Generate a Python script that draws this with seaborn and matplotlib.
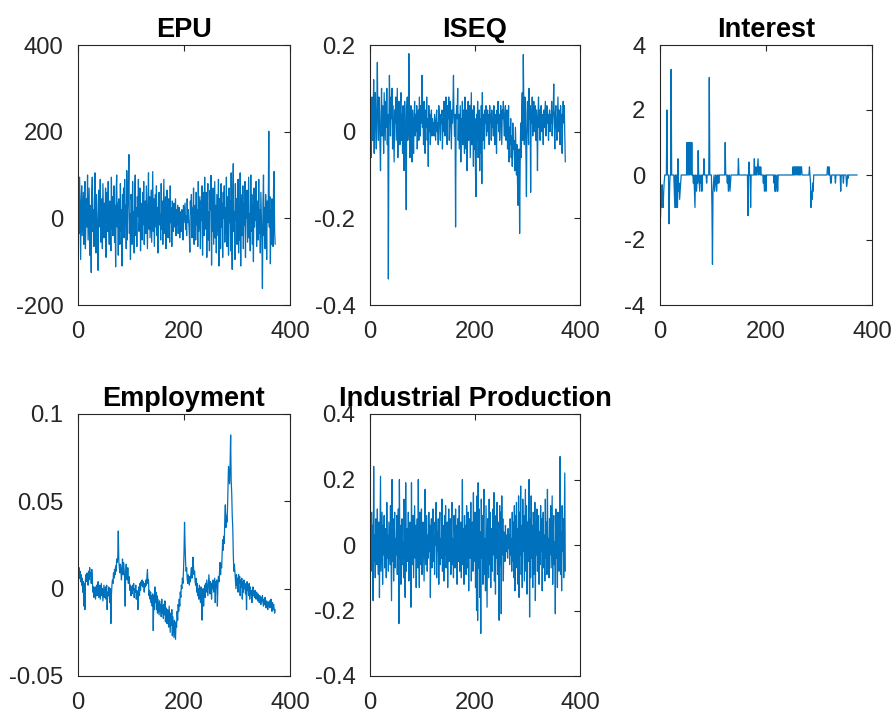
import numpy as np
import pandas as pd
import matplotlib
matplotlib.use("Agg")
import matplotlib.pyplot as plt
import seaborn as sns

titles = ["EPU", "ISEQ", "Interest", "Employment", "Industrial Production"]

epu = [20, -35, 95, -10, -95, 40, 75, -40, 10, 60, -60, 25, 85, -70, 0, 45, -20, 100, -50, 15,
       70, -85, 30, -40, -125, 60, 95, -30, 20, -65, 40, 105, -15, -80, 55, 10, -40, -120, 65, 30,
       -20, 90, -55, 5, 45, -70, 80, 20, -45, 35, -10, 70, -90, 25, 60, -30, 85, -5, -60, 40,
       15, -75, 95, -25, 50, -40, 10, 75, -55, 30, -112, 60, 100, -20, 35, -85, 45, 5, -60, 80,
       -30, 20, -110, 55, 10, 70, -45, 90, -15, 30, -70, 110, -50, 20, 65, 147, -35, 10, -95, 55,
       40, -60, 85, -20, 15, -80, 60, 100, -40, 25, -65, 50, 5, 90, -30, -10, 70, -75, 35, 20,
       -50, 60, -15, 85, -60, 10, 40, -35, 75, -5, -70, 30, 105, -25, 50, -45, 15, 65, -55, 20,
       108, -30, 45, -65, 0, 55, -20, 75, -40, 25, -80, 35, 60, -15, 10, -50, 80, -25, 40, -60,
       20, 90, -35, 5, 50, -70, 30, 65, -20, -45, 45, 10, -55, 75, -10, 25, -65, 40, 15, -30,
       35, -20, 10, 45, -40, 20, -15, 30, -35, 5, 25, -45, 15, 0, -30, 20, 10, -50, 30, -10,
       15, 35, -25, 5, -40, 45, -10, 20, -5, -35, -78, 40, 10, 55, -45, 25, -20, 70, -60, 0,
       30, -50, 60, -15, 20, -65, 85, -30, 10, 50, -70, 40, -5, 75, -85, 20, 60, -40, 95, -25,
       5, 60, -90, 35, 80, -50, 15, -75, 65, 20, 99, -108, 40, -30, 70, -60, 10, 85, -45, 30,
       -80, 55, 5, -40, 90, -110, 45, 15, -70, 80, -20, 35, -90, 60, 0, 75, -55, 25, -35, 95,
       -65, 20, 50, -85, 70, -10, 40, -75, 105, -45, -118, 60, 126, -30, 15, -95, 80, -5, 45, -60,
       30, 90, -80, 25, -50, 105, -110, 55, 10, -40, 75, -70, 35, -15, 85, -90, 40, 0, 65, -55,
       20, 95, -45, 10, -75, 100, -30, 55, -60, 30, -100, 70, -20, 45, -5, 85, -65, 15, 40, -50,
       90, -35, 20, -80, 60, 0, -55, -162, 35, 100, -40, 25, -70, 55, 10, -95, 40, -10, 30, 201,
       -20, 50, -105, 20, -60, 45, 15, -65, 70, 108, -30, -60]

iseq = [0.05, -0.06, 0.02, 0.08, -0.02, 0.04, 0.12, -0.05, 0.06, 0.09, 0.01, -0.04, 0.07, 0.16, 0.03, -0.02, 0.08, 0.05, -0.03, -0.09,
        0.04, 0.10, -0.01, 0.06, 0.02, -0.05, 0.09, 0.03, -0.02, 0.07, 0.01, 0.10, -0.03, 0.04, -0.34, 0.02, 0.13, 0.05, -0.01, 0.08,
        0.03, 0.10, -0.04, 0.06, 0.00, -0.07, 0.05, 0.02, 0.08, -0.02, 0.04, 0.10, -0.06, 0.03, 0.07, 0.01, -0.03, 0.06, 0.09, -0.02,
        0.04, -0.05, 0.06, 0.02, -0.09, 0.07, 0.03, -0.04, -0.18, 0.05, 0.08, -0.02, 0.01, 0.18, 0.04, -0.06, 0.02, 0.06, -0.03, -0.07,
        0.05, 0.01, -0.05, 0.03, 0.07, -0.01, 0.04, 0.00, 0.06, -0.04, 0.02, 0.05, -0.02, 0.08, 0.03, -0.01, 0.06, 0.02, 0.13, 0.01,
        0.04, -0.03, 0.07, 0.02, -0.05, 0.05, 0.01, 0.08, -0.02, 0.03, -0.08, 0.06, 0.00, 0.04, -0.03, 0.02, 0.05, -0.01, 0.03, 0.01,
        0.02, -0.01, 0.04, 0.01, -0.02, 0.03, 0.05, 0.00, 0.02, -0.03, 0.06, 0.03, 0.01, -0.02, 0.04, 0.02, 0.05, -0.04, 0.03, 0.00,
        0.07, 0.02, -0.01, 0.05, 0.08, 0.01, -0.03, 0.06, 0.03, 0.08, -0.02, 0.04, 0.07, 0.01, -0.04, 0.05, 0.02, 0.06, 0.13, 0.03,
        -0.01, 0.04, -0.22, 0.02, 0.06, 0.03, 0.10, -0.02, 0.04, -0.04, 0.01, 0.06, -0.07, 0.03, 0.00, 0.07, -0.03, 0.05, 0.02, -0.05,
        0.08, 0.01, -0.04, 0.05, -0.09, 0.03, 0.07, -0.02, 0.04, 0.06, -0.06, 0.02, 0.09, -0.03, 0.05, 0.01, -0.08, 0.06, -0.04, 0.03,
        -0.10, -0.15, 0.04, -0.02, 0.07, -0.06, 0.02, 0.05, -0.09, 0.03, -0.05, 0.06, -0.12, 0.09, -0.02, 0.04, 0.01, -0.04, 0.05, 0.02,
        0.06, -0.01, 0.03, 0.05, 0.00, 0.04, -0.03, 0.06, 0.02, 0.04, -0.02, 0.05, 0.01, 0.03, -0.01, 0.06, 0.02, -0.03, 0.04, 0.01,
        -0.05, 0.05, 0.02, 0.07, 0.00, 0.04, -0.02, 0.03, 0.06, 0.01, -0.03, 0.05, 0.03, 0.07, 0.02, -0.01, 0.04, 0.06, -0.02, 0.03,
        0.05, -0.04, 0.02, 0.06, -0.07, 0.01, -0.03, 0.03, -0.06, -0.01, -0.08, 0.02, -0.04, -0.02, -0.06, -0.09, 0.01, -0.05, -0.10, -0.03,
        -0.12, -0.17, -0.07, -0.04, -0.235, -0.08, 0.02, -0.06, 0.05, 0.09, -0.02, 0.178, 0.06, -0.03, 0.08, 0.03, -0.05, -0.15, 0.04, 0.07,
        0.01, -0.03, 0.10, 0.03, 0.06, -0.14, 0.05, 0.02, 0.08, -0.01, 0.04, 0.07, 0.00, 0.03, 0.06, -0.02, 0.05, 0.02, -0.09, 0.04,
        0.08, 0.01, 0.05, -0.02, 0.03, 0.06, 0.00, 0.04, 0.02, -0.03, 0.05, 0.01, 0.04, 0.07, -0.01, 0.03, 0.06, 0.02, 0.04, -0.02,
        0.03, 0.05, 0.00, 0.04, 0.02, 0.07, -0.01, 0.03, 0.05, 0.11, 0.02, -0.04, 0.04, 0.06, 0.01, -0.02, 0.03, 0.08, 0.00, 0.05,
        0.02, -0.03, 0.06, 0.01, 0.04, -0.05, 0.03, 0.07, 0.02, 0.06, -0.01, -0.07]

interest = [-1.3, -0.5, -1.0, -0.3, -0.8, -1.0, -0.5, -0.2, 0, 0, 0, 0, 2.0, 0, 0, 0, -1.5, -0.5, 0, 0,
            3.25, 0, 0, 0, 0, 0, -0.5, -1.0, 0, -1.0, 0, -1.0, -1.0, 0.5, -0.5, -0.25, -0.75, -0.5, -0.25, 0,
            0, 0, 0, 0, 0, 0, 0, 0, 0, 0, 1.0, 0, 1.0, 0, 1.0, 0, 1.0, 1.0, 0, 1.0,
            0, 0, -0.25, 0, -0.5, -1.0, 0, -0.25, -0.5, 0, -0.25, 0.75, 0, -0.25, -0.5, 0, -0.25, 0, -0.5, 0,
            0, 0, 0.5, 0, 0, 0, 0, -0.25, 0, 0, 0, 0, 3.0, 0, 0, 0, 0, -1.0, -2.75, -0.5,
            -0.25, 0, -0.5, -0.25, 0, -0.25, -0.5, 0, -0.25, 0, -0.25, 0, 0, 0, 0, 0, 0, 0, 0, 0,
            0, 0, 1.0, 0, 0, 0, -0.25, 0, -0.5, -0.25, 0, -0.5, -0.25, 0, 0, 0, 0, 0, 0, 0,
            0, 0, 0, 0, 0, 0, 0, 0.5, 0, 0, 0, 0, 0, 0, 0, 0, 0, 0, 0, 0,
            0, 0, 0, 0, 0, -1.25, 0, 0.4, 0, 0, -1.0, 0, 0, 0, 0, 0, 0, 0.5, 0, 0,
            0.25, 0, 0, 0.25, 0.5, 0, 0.25, 0.25, 0, 0.25, 0, 0, 0, 0, -0.25, 0, -0.5, -0.25, 0, -0.5,
            0, 0, 0, 0, 0, 0, 0, 0, 0, 0, 0, 0, 0, 0, -0.25, 0, -0.5, 0, -0.5, -0.25,
            0, -0.5, 0, 0, 0, 0, 0, 0, 0, 0, 0, 0, 0, 0, 0, 0, 0, 0, 0, 0,
            0, 0, 0, 0, 0, 0, 0, 0, 0, 0, 0.25, 0, 0.25, 0, 0.25, 0, 0.25, 0.25, 0, 0.25,
            0, 0.25, 0, 0.25, 0, 0.25, 0.25, 0, 0, 0, 0, 0, 0, 0, 0, 0, 0, 0, 0, 0,
            0, 0.25, 0, -0.25, -1.0, -0.5, -0.75, -0.25, -0.5, 0, 0, 0, 0, 0, 0, 0, 0, 0, 0, 0,
            0, 0, 0, 0, 0, 0, 0, 0, 0, 0, 0, 0, 0, 0, 0, 0.25, 0.25, 0, 0.25, 0,
            0, -0.25, -0.25, 0, 0, 0, 0, 0, 0, 0, -0.25, 0, 0, 0, 0, 0, 0, 0, 0, 0,
            -0.5, 0, 0, 0, 0, -0.25, 0, 0, 0, 0, 0, -0.35, -0.25, 0, -0.1, 0, 0, 0, 0, 0,
            0, 0, 0, 0, 0, 0, 0, 0, 0, 0, 0, 0]

employment = [0.008, 0.012, 0.006, 0.010, 0.004, 0.008, 0.002, 0.006, -0.002, 0.004, -0.010, 0.003, -0.012, 0.005, 0.008, 0.004, 0.009, 0.006, 0.002, 0.010,
              0.005, 0.012, 0.007, 0.009, 0.003, 0.011, 0.006, -0.002, 0.001, -0.005, -0.003, 0.001, -0.006, -0.002, 0.002, -0.004, -0.001, 0.004, -0.005, -0.003,
              0.002, -0.006, -0.001, 0.003, -0.004, 0.000, -0.007, -0.002, 0.002, -0.005, -0.003, 0.001, -0.006, 0.002, -0.012, -0.002, -0.004, 0.001, -0.003, -0.008,
              0.000, -0.020, -0.004, 0.002, 0.005, 0.003, 0.009, 0.006, 0.011, 0.008, 0.013, 0.010, 0.017, 0.015, 0.018, 0.033, 0.016, 0.012, 0.009, 0.014,
              0.010, 0.005, 0.012, 0.017, 0.008, 0.015, 0.011, 0.006, -0.010, 0.010, 0.014, 0.008, 0.005, 0.012, 0.003, 0.007, 0.004, -0.001, 0.002, -0.004,
              0.001, -0.003, 0.002, -0.001, 0.003, -0.005, 0.000, -0.002, 0.002, -0.006, -0.001, -0.003, -0.012, -0.002, 0.001, -0.004, 0.003, -0.001, 0.004, 0.002,
              0.005, 0.001, 0.004, 0.002, -0.002, 0.003, 0.001, 0.005, 0.002, 0.007, 0.011, 0.003, 0.005, -0.004, -0.001, -0.006, -0.002, -0.008, -0.004, -0.010,
              -0.003, -0.024, -0.004, -0.012, 0.001, -0.008, -0.002, -0.012, -0.004, -0.014, -0.006, -0.011, -0.015, -0.007, -0.013, -0.009, -0.016, -0.006, -0.014, -0.010,
              -0.017, -0.009, -0.015, -0.007, -0.019, -0.011, -0.013, -0.020, -0.012, -0.016, -0.022, -0.010, -0.018, -0.025, -0.014, -0.021, -0.012, -0.027, -0.016, -0.022,
              -0.028, -0.018, -0.024, -0.029, -0.019, -0.022, -0.013, -0.018, -0.009, -0.013, -0.006, -0.010, -0.002, -0.005, 0.002, 0.000, 0.006, 0.003, 0.010, 0.020,
              0.038, 0.025, 0.015, 0.010, 0.012, 0.006, 0.003, 0.008, 0.005, 0.002, 0.007, 0.004, 0.009, 0.012, 0.006, 0.010, 0.018, 0.012, 0.008, 0.010,
              0.004, 0.002, 0.006, -0.002, 0.003, -0.004, 0.000, -0.006, 0.002, -0.003, -0.008, 0.001, -0.004, -0.018, -0.006, 0.000, -0.010, -0.003, 0.002, -0.005,
              0.003, -0.002, 0.005, 0.000, -0.004, 0.002, 0.008, 0.003, -0.003, 0.004, 0.001, -0.006, 0.003, 0.000, 0.005, -0.002, 0.002, 0.006, -0.008, 0.004,
              0.001, 0.005, -0.010, 0.002, 0.007, 0.004, 0.010, 0.015, 0.008, 0.014, 0.012, 0.020, 0.028, 0.022, 0.030, 0.026, 0.040, 0.048, 0.035, 0.042,
              0.038, 0.045, 0.058, 0.070, 0.065, 0.060, 0.072, 0.088, 0.062, 0.055, 0.042, 0.035, 0.020, 0.010, 0.014, 0.010, 0.005, 0.000, 0.008, 0.002,
              0.006, -0.002, 0.008, 0.003, 0.007, -0.004, 0.005, 0.001, 0.006, -0.006, 0.004, -0.002, 0.005, 0.000, 0.003, -0.003, 0.002, -0.012, 0.004, -0.001,
              0.002, -0.004, 0.003, -0.006, 0.001, -0.003, -0.001, -0.008, -0.002, 0.001, -0.004, -0.002, -0.005, -0.001, -0.003, -0.006, -0.002, -0.004, -0.007, -0.003,
              -0.005, -0.008, -0.004, -0.006, -0.009, -0.005, -0.007, -0.004, -0.008, -0.010, -0.006, -0.009, -0.005, -0.008, -0.011, -0.007, -0.009, -0.012, -0.008, -0.010,
              -0.007, -0.011, -0.009, -0.006, -0.010, -0.013, -0.008, -0.012, -0.009, -0.011, -0.014, -0.012]

indprod = [0.05, -0.08, 0.10, -0.02, 0.06, -0.17, 0.24, -0.05, 0.03, -0.10, 0.08, 0.02, -0.06, 0.11, -0.03, -0.09, 0.07, -0.16, 0.04, 0.21,
           -0.08, 0.02, 0.10, -0.12, 0.06, -0.03, 0.09, -0.07, 0.01, 0.05, -0.10, 0.13, -0.04, 0.03, -0.08, 0.07, 0.00, -0.06, 0.12, -0.02,
           -0.17, 0.20, -0.05, 0.08, -0.11, 0.04, 0.10, -0.07, 0.02, -0.03, 0.09, -0.09, 0.05, 0.11, -0.24, 0.20, -0.04, 0.06, -0.12, 0.03,
           0.08, -0.06, 0.01, -0.10, 0.14, -0.03, -0.16, 0.19, -0.08, 0.05, 0.02, -0.05, 0.10, -0.11, 0.03, 0.07, -0.02, -0.19, 0.19, -0.06,
           0.04, 0.09, -0.10, 0.01, 0.12, -0.04, 0.06, -0.13, 0.03, 0.08, -0.07, 0.20, -0.02, -0.13, 0.10, 0.00, -0.06, 0.11, -0.09, 0.04,
           0.07, -0.03, -0.11, 0.05, 0.17, -0.06, 0.02, 0.09, -0.08, 0.03, -0.04, 0.10, -0.02, 0.06, -0.16, 0.04, 0.08, -0.07, 0.01, 0.11,
           -0.05, 0.03, -0.09, 0.07, 0.00, 0.13, -0.10, 0.04, -0.02, 0.08, -0.12, 0.05, 0.10, -0.06, 0.02, -0.04, 0.14, -0.08, 0.03, 0.06,
           -0.11, 0.09, -0.03, 0.12, -0.07, 0.01, 0.07, -0.13, 0.04, 0.11, -0.05, -0.01, 0.08, -0.09, 0.05, 0.13, -0.06, 0.02, -0.10, 0.09,
           0.03, -0.07, 0.11, -0.04, 0.06, -0.12, 0.08, 0.00, -0.05, 0.12, -0.08, 0.04, 0.07, -0.10, 0.02, 0.20, -0.06, 0.05, -0.12, 0.09,
           -0.03, 0.06, -0.09, 0.12, 0.01, -0.07, 0.10, -0.14, 0.05, 0.08, -0.04, 0.13, -0.11, 0.03, 0.07, -0.08, 0.16, -0.05, -0.02, 0.10,
           -0.13, 0.06, -0.20, 0.15, -0.23, 0.19, -0.07, 0.11, -0.16, 0.04, -0.27, 0.14, -0.04, 0.09, -0.12, 0.06, 0.17, -0.09, 0.02, -0.14,
           0.12, -0.05, -0.19, 0.08, 0.03, -0.10, 0.14, -0.06, 0.10, -0.13, 0.05, 0.01, -0.08, 0.11, -0.03, 0.16, -0.11, 0.06, -0.15, 0.09,
           -0.04, 0.13, -0.09, 0.07, -0.02, -0.23, 0.12, -0.06, 0.10, -0.21, 0.15, -0.03, 0.08, -0.11, 0.04, 0.02, -0.05, 0.06, -0.02, 0.03,
           0.00, -0.04, 0.05, -0.01, 0.03, -0.06, 0.08, -0.03, 0.02, -0.08, 0.10, -0.05, 0.07, -0.10, 0.12, -0.14, 0.09, -0.04, 0.13, -0.07,
           0.05, -0.12, 0.15, -0.16, 0.10, -0.03, 0.18, -0.09, 0.06, -0.13, 0.14, -0.02, 0.09, -0.11, 0.04, 0.17, -0.08, 0.12, -0.15, 0.07,
           -0.05, 0.11, 0.20, -0.22, 0.08, -0.10, 0.15, -0.04, 0.06, -0.13, 0.10, 0.02, -0.09, 0.13, -0.17, 0.07, -0.03, 0.11, -0.08, 0.05,
           0.09, -0.12, 0.04, -0.06, 0.12, -0.02, 0.08, -0.14, 0.05, 0.10, -0.07, 0.03, -0.11, 0.14, -0.04, 0.07, -0.09, 0.17, -0.05, 0.02,
           -0.10, 0.08, -0.03, 0.12, -0.07, 0.05, 0.15, -0.12, 0.03, 0.09, -0.06, 0.01, -0.21, 0.11, -0.04, 0.07, -0.13, 0.10, 0.02, -0.08,
           0.06, 0.27, -0.09, 0.04, -0.14, 0.12, -0.02, 0.08, -0.10, 0.05, 0.22, -0.08]

series = [epu, iseq, interest, employment, indprod]
ylims = [(-200, 400), (-0.4, 0.2), (-4, 4), (-0.05, 0.1), (-0.4, 0.4)]
yticks = [[-200, 0, 200, 400], [-0.4, -0.2, 0, 0.2], [-4, -2, 0, 2, 4],
          [-0.05, 0, 0.05, 0.1], [-0.4, -0.2, 0, 0.2, 0.4]]
ylabels = [["-200", "0", "200", "400"], ["-0.4", "-0.2", "0", "0.2"],
           ["-4", "-2", "0", "2", "4"], ["-0.05", "0", "0.05", "0.1"],
           ["-0.4", "-0.2", "0", "0.2", "0.4"]]
xticks = [0, 200, 400]

sns.set_style("white")
plt.rcParams["font.family"] = ["Liberation Sans", "DejaVu Sans"]

W, H = 891, 713
fig = plt.figure(figsize=(W / 100, H / 100), dpi=100)
boxes = [(78, 45, 212, 260), (370, 45, 210, 260), (660, 45, 212, 260),
         (78, 414, 212, 262), (370, 414, 210, 262)]

color = "#0072BD"
edge = "#262626"
for i, (vals, title) in enumerate(zip(series, titles)):
    l, t, w, h = boxes[i]
    ax = fig.add_axes([l / W, (H - t - h) / H, w / W, h / H])
    df = pd.DataFrame({"x": np.arange(1, len(vals) + 1), "y": vals})
    sns.lineplot(data=df, x="x", y="y", ax=ax, color=color, linewidth=0.9,
                 estimator=None, sort=False)
    ax.set_xlim(0, 400)
    ax.set_ylim(*ylims[i])
    ax.set_xticks(xticks)
    ax.set_xticklabels([str(v) for v in xticks])
    ax.set_yticks(yticks[i])
    ax.set_yticklabels(ylabels[i])
    ax.set_xlabel("")
    ax.set_ylabel("")
    ax.set_title(title, fontsize=19.5, fontweight="bold", pad=6, color="black")
    for s in ax.spines.values():
        s.set_visible(True)
        s.set_color(edge)
        s.set_linewidth(0.8)
    ax.tick_params(axis="both", direction="in", length=4, width=0.8, color=edge,
                   labelsize=17.2, labelcolor="#262626", top=True, right=True)
    ax.tick_params(axis="x", pad=11.5)
    ax.tick_params(axis="y", pad=10.5)

fig.savefig("out.png", dpi=100)
